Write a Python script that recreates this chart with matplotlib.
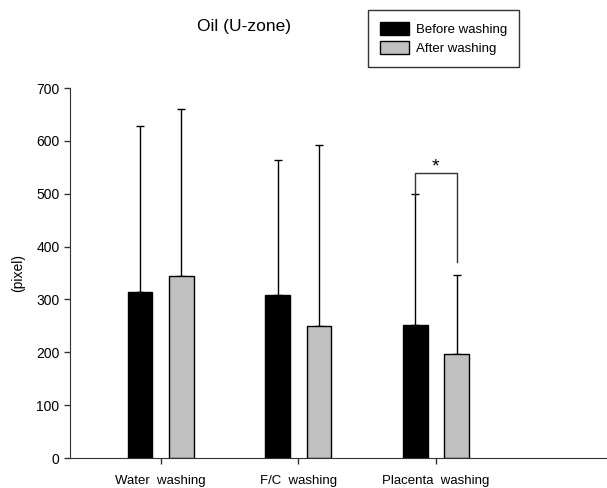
import numpy as np
import matplotlib
matplotlib.use('Agg')
import matplotlib.pyplot as plt

# values
groups = ['Water  washing', 'F/C  washing', 'Placenta  washing']
before_mean = [314, 308, 252]
before_sd = [315, 255, 247]
after_mean = [344, 250, 196]
after_sd = [317, 342, 150]

plt.rcParams['font.family'] = ['Liberation Sans', 'DejaVu Sans']

fig = plt.figure(figsize=(6.07, 4.88), dpi=100)
ax = fig.add_axes([70 / 607, 30 / 488, 537 / 607, 370 / 488])

x = np.arange(len(groups))
w = 0.18
off = 0.15

# error bars first so the bars hide the lower part
for xs, m, sd in [(x - off, before_mean, before_sd), (x + off, after_mean, after_sd)]:
    ax.errorbar(xs, m, yerr=[np.zeros(len(sd)), sd], fmt='none', ecolor='black',
                elinewidth=1, capsize=3, capthick=1, zorder=1)

ax.bar(x - off, before_mean, w, color='black', edgecolor='black', linewidth=1,
       label='Before washing', zorder=2)
ax.bar(x + off, after_mean, w, color='#c0c0c0', edgecolor='black', linewidth=1,
       label='After washing', zorder=2)

# significance bracket for placenta washing
top_b = before_mean[2] + before_sd[2]
ax.plot([x[2] - off, x[2] - off, x[2] + off, x[2] + off],
        [top_b, 539, 539, 371], color='#333333', linewidth=1)
ax.text(x[2], 551, '*', ha='center', va='center', fontsize=14)

ax.set_xlim(-0.659, 3.243)
ax.set_ylim(0, 700)
ax.set_yticks(np.arange(0, 701, 100))
ax.set_xticks(x)
ax.set_xticklabels(groups)
ax.tick_params(axis='both', direction='out', length=4, width=1, labelsize=10, colors='#333333')
ax.tick_params(axis='x', pad=8, labelsize=9.5)
for lbl in ax.get_xticklabels() + ax.get_yticklabels():
    lbl.set_color('black')
ax.spines['top'].set_visible(False)
ax.spines['right'].set_visible(False)
ax.spines['left'].set_color('#333333')
ax.spines['bottom'].set_color('#333333')

ax.set_ylabel('(pixel)', fontsize=10)
ax.yaxis.set_label_coords(-0.084, 0.5)

fig.text(244 / 607, 1 - 27 / 488, 'Oil (U-zone)', ha='center', va='center', fontsize=12.5)

leg = fig.legend(loc='upper left', bbox_to_anchor=(368 / 607, 1 - 10 / 488),
                 fontsize=9.5, frameon=True, fancybox=False, edgecolor='black',
                 handlelength=2.2, handleheight=1.2, handletextpad=0.5,
                 labelspacing=0.35, borderpad=0.9, borderaxespad=0)
leg.get_frame().set_linewidth(1)

fig.savefig('out.png', dpi=100)
